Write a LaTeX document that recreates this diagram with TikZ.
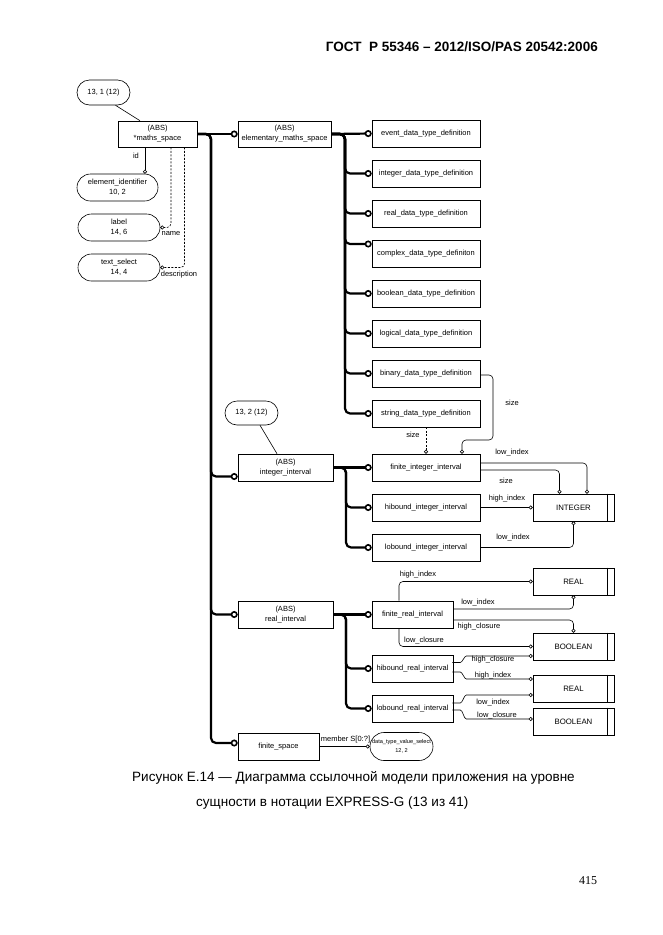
\documentclass[tikz,border=0pt]{standalone}
\usepackage{fontspec}
\setmainfont{Liberation Sans}
\newfontfamily\pagefont{Liberation Serif}
\usetikzlibrary{arrows.meta,shapes.misc}
\newcommand{\dfont}{\fontsize{7.5}{10}\selectfont}
\begin{document}
\begin{tikzpicture}[x=1pt,y=-1pt,
  ent/.style={draw, line width=0.6pt, rectangle, minimum height=27pt, inner sep=0pt, font=\dfont, align=center},
  pill/.style={draw, line width=0.6pt, rounded rectangle, minimum height=27pt, inner sep=0pt, font=\dfont, align=center},
  lbl/.style={inner sep=0pt, font=\dfont},
  thk/.style={line width=2.2pt, rounded corners=5pt, -{Circle[open,length=7pt,line width=1.6pt]}},
  thn/.style={line width=0.6pt, rounded corners=4pt, -{Circle[open,length=4pt]}},
  ln/.style={line width=0.6pt},
  dsh/.style={thn, dash pattern=on 2pt off 1.5pt}]
\useasboundingbox (0,0) rectangle (662,935);

% header
\node[anchor=east, inner sep=0pt, font=\bfseries\fontsize{13.5}{15}\selectfont] (hdr) at (598,47) {ГОСТ\ \ Р 55346 – 2012/ISO/PAS 20542:2006};

% top left
\node[pill, minimum width=53pt, minimum height=25pt] (p131) at (103.5,92.5) {13, 1 (12)};
\node[ent, minimum width=79pt, minimum height=26pt] (ms) at (157.5,134) {(ABS)\\*maths\_space};
\node[pill, minimum width=81pt] (eid) at (117.5,187.5) {element\_identifier\\10, 2};
\node[pill, minimum width=82pt] (lab) at (119,227.5) {label\\14, 6};
\node[pill, minimum width=82pt] (tsel) at (119,267.5) {text\_select\\14, 4};

\draw[ln] ([xshift=12pt]p131.south) -- ([xshift=-17.5pt]ms.north);
\draw[thn] ([xshift=-12.5pt]ms.south) -- ([xshift=-12.5pt]ms.south |- eid.north);
\draw[dsh] ([xshift=13.5pt]ms.south) |- (lab.east);
\draw[dsh] ([xshift=27pt]ms.south) |- (tsel.east);
\node[lbl] at (136,156) {id};
\node[lbl] at (171,234) {name};
\node[lbl] at (179,275) {description};

% elementary maths space
\node[ent, minimum width=93pt, minimum height=26pt] (ems) at (284.5,134) {(ABS)\\elementary\_maths\_space};
\coordinate (mt) at (211,134);
\coordinate (et) at (345,134);
\draw[thk] (ms.east) -- (ems.west);

\node[ent, minimum width=108pt] (dt1) at (426,133.5) {event\_data\_type\_definition};
\node[ent, minimum width=108pt] (dt2) at (426,173.5) {integer\_data\_type\_definition};
\node[ent, minimum width=108pt] (dt3) at (426,213.5) {real\_data\_type\_definition};
\node[ent, minimum width=108pt] (dt4) at (426,253.5) {complex\_data\_type\_definiton};
\node[ent, minimum width=108pt] (dt5) at (426,293.5) {boolean\_data\_type\_definition};
\node[ent, minimum width=108pt] (dt6) at (426,333.5) {logical\_data\_type\_definition};
\node[ent, minimum width=108pt] (dt7) at (426,373.5) {binary\_data\_type\_definition};
\node[ent, minimum width=108pt] (dt8) at (426,413.5) {string\_data\_type\_definition};

\draw[thk] (ems.east) -- (dt1.west);
\draw[thk] (ems.east) -- (et) |- (dt2.west);
\draw[thk] (ems.east) -- (et) |- (dt3.west);
\draw[thk] (ems.east) -- (et) |- ([yshift=9.5pt]dt4.west);
\draw[thk] (ems.east) -- (et) |- (dt5.west);
\draw[thk] (ems.east) -- (et) |- (dt6.west);
\draw[thk] (ems.east) -- (et) |- (dt7.west);
\draw[thk] (ems.east) -- (et) |- (dt8.west);

% integer interval
\node[pill, minimum width=53pt, minimum height=24pt] (p132) at (251.5,413) {13, 2 (12)};
\node[ent, minimum width=95pt] (ii) at (285.5,467.5) {(ABS)\\integer\_interval};
\draw[ln] ([xshift=8.5pt]p132.south) -- ([xshift=-8.5pt]ii.north);
\coordinate (it) at (346,467.5);
\node[ent, minimum width=108pt] (fi) at (426,467.5) {finite\_integer\_interval};
\node[ent, minimum width=108pt] (hbi) at (426,507.5) {hibound\_integer\_interval};
\node[ent, minimum width=108pt] (lbi) at (426,547.5) {lobound\_integer\_interval};
\node[ent, minimum width=81pt, font=\fontsize{7.8}{10}\selectfont] (INT) at (573.5,507.5) {INTEGER};
\draw[ln] ([xshift=-7pt]INT.north east) -- ([xshift=-7pt]INT.south east);

\draw[thk] (ii.east) -- (fi.west);
\draw[thk] (ii.east) -- (it) |- (hbi.west);
\draw[thk] (ii.east) -- (it) |- (lbi.west);

\coordinate (bz) at (493,440);
\draw[dsh] (dt8.south) -- (fi.north);
\draw[thn] ([yshift=-1.5pt]dt7.east) -| (bz) -| ([xshift=36pt]fi.north);
\draw[thn] ([yshift=4.5pt]fi.east) -| ([xshift=13.5pt]INT.north);
\draw[thn] ([yshift=-2.5pt]fi.east) -| ([xshift=-14pt]INT.north);
\draw[thn] (hbi.east) -- (INT.west);
\draw[thn] (lbi.east) -| (INT.south);
\node[lbl] at (413,435) {size};
\node[lbl] at (512,403) {size};
\node[lbl] at (512,453) {low\_index};
\node[lbl] at (506,481) {size};
\node[lbl] at (507,499) {high\_index};
\node[lbl] at (513,538) {low\_index};

% real interval
\node[ent, minimum width=95pt] (ri) at (285.5,614.5) {(ABS)\\real\_interval};
\coordinate (rt) at (346,614.5);
\node[ent, minimum width=81pt] (fr) at (412.5,614.5) {finite\_real\_interval};
\node[ent, minimum width=81pt] (hr) at (412.5,668.5) {hibound\_real\_interval};
\node[ent, minimum width=81pt] (lr) at (412.5,708.5) {lobound\_real\_interval};
\node[ent, minimum width=81pt, font=\fontsize{7.8}{10}\selectfont] (RA) at (573.5,581.5) {REAL};
\node[ent, minimum width=81pt, font=\fontsize{7.8}{10}\selectfont] (BA) at (573.5,646.5) {BOOLEAN};
\node[ent, minimum width=81pt, font=\fontsize{7.8}{10}\selectfont] (RB) at (573.5,688.5) {REAL};
\node[ent, minimum width=81pt, font=\fontsize{7.8}{10}\selectfont] (BB) at (573.5,721.5) {BOOLEAN};
\foreach \b in {RA,BA,RB,BB}
  \draw[ln] ([xshift=-7pt]\b.north east) -- ([xshift=-7pt]\b.south east);

\draw[thk] (ri.east) -- (fr.west);
\draw[thk] (ri.east) -- (rt) |- (hr.west);
\draw[thk] (ri.east) -- (rt) |- (lr.west);

\draw[thn] ([xshift=-13.5pt]fr.north) |- (RA.west);
\draw[thn] ([yshift=5.5pt]fr.east) -| (RA.south);
\draw[thn] ([yshift=-5.5pt]fr.east) -| (BA.north);
\draw[thn] ([xshift=-13.5pt]fr.south) |- (BA.west);
\draw[thn] ([yshift=6pt]hr.east) -- ++(3,0) to[out=0,in=180] ++(14,-6.5) -- ([yshift=-9.5pt]BA.west);
\draw[thn] ([yshift=-3.5pt]hr.east) -- ++(3,0) to[out=0,in=180] ++(14,7) -- ([yshift=9.5pt]RB.west);
\draw[thn] ([yshift=5.5pt]lr.east) -- ++(3,0) to[out=0,in=180] ++(14,-8) -- ([yshift=-6.5pt]RB.west);
\draw[thn] ([yshift=-1.5pt]lr.east) -- ++(3,0) to[out=0,in=180] ++(14,9) -- ([yshift=2.5pt]BB.west);
\node[lbl] at (418,575) {high\_index};
\node[lbl] at (478,603) {low\_index};
\node[lbl] at (479,627) {high\_closure};
\node[lbl] at (424,641) {low\_closure};
\node[lbl] at (493,660) {high\_closure};
\node[lbl] at (493,675.5) {high\_index};
\node[lbl] at (493,702.5) {low\_index};
\node[lbl] at (497,715.5) {low\_closure};

% finite space
\node[ent, minimum width=81pt] (fs) at (278.5,746.5) {finite\_space};
\node[pill, minimum width=63pt, minimum height=28pt, font=\fontsize{5.6}{9}\selectfont] (dtv) at (401.5,746.5) {data\_type\_value\_select\\12, 2};
\draw[thn] (fs.east) -- (dtv.west);
\node[lbl] at (345.5,740) {member S[0:?]};

% main trunk
\draw[thk] (ms.east) -- (mt) |- ([yshift=-9pt]ii.west);
\draw[thk] (ms.east) -- (mt) |- (ri.west);
\draw[thk] (ms.east) -- (mt) |- ([yshift=3.5pt]fs.west);

% caption
\node[anchor=west, inner sep=0pt, font=\fontsize{13.5}{15}\selectfont] (cap1) at (132,778) {Рисунок Е.14 — Диаграмма ссылочной модели приложения на уровне};
\node[anchor=west, inner sep=0pt, font=\fontsize{13.5}{15}\selectfont] (cap2) at (196,803) {сущности в нотации EXPRESS-G (13 из 41)};
\node[inner sep=0pt, font=\pagefont\fontsize{12}{14}\selectfont] (pg) at (588,881) {415};
\end{tikzpicture}
\end{document}
